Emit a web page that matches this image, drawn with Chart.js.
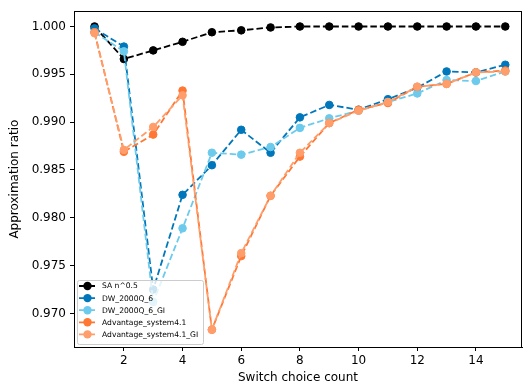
<!DOCTYPE html>
<html>
<head>
<meta charset="utf-8">
<script src="https://cdn.jsdelivr.net/npm/chart.js@4.4.1/dist/chart.umd.min.js"></script>
<style>
  html, body { margin: 0; padding: 0; background: white; }
  #wrap { width: 527px; height: 389px; }
</style>
</head>
<body>
<div id="wrap"><canvas id="c" width="527" height="389"></canvas></div>
<script>
const switchCounts = [1, 2, 3, 4, 5, 6, 7, 8, 9, 10, 11, 12, 13, 14, 15];

const saSqrt = [1.0000, 0.9966, 0.9975, 0.9984, 0.9994, 0.9996, 0.9999, 1.0000, 1.0000, 1.0000, 1.0000, 1.0000, 1.0000, 1.0000, 1.0000];
const dw2000q = [0.9998, 0.9979, 0.9725, 0.9824, 0.9855, 0.9892, 0.9868, 0.9905, 0.9918, 0.9913, 0.9924, 0.9936, 0.9953, 0.9952, 0.9960];
const dw2000qGI = [0.9994, 0.9974, 0.9712, 0.9789, 0.9868, 0.9866, 0.9874, 0.9894, 0.9904, 0.9912, 0.9921, 0.9930, 0.9944, 0.9943, 0.9953];
const advantage = [0.9994, 0.9869, 0.9887, 0.9933, 0.9683, 0.9760, 0.9823, 0.9864, 0.9899, 0.9913, 0.9920, 0.9937, 0.9940, 0.9952, 0.9954];
const advantageGI = [0.9993, 0.9871, 0.9895, 0.9928, 0.9683, 0.9763, 0.9823, 0.9868, 0.9899, 0.9912, 0.9921, 0.9937, 0.9940, 0.9952, 0.9953];

const seriesNames = ["SA n^0.5", "DW_2000Q_6", "DW_2000Q_6_GI", "Advantage_system4.1", "Advantage_system4.1_GI"];
const seriesValues = [saSqrt, dw2000q, dw2000qGI, advantage, advantageGI];
const seriesColors = ["#000000", "#0077BB", "#6CCBEC", "#FF7733", "#FF9E6B"];

const yTicks = [0.970, 0.975, 0.980, 0.985, 0.990, 0.995, 1.000];
const xTicks = [2, 4, 6, 8, 10, 12, 14];

const FONT = "DejaVu Sans";
const DASH = [6.5, 3];

const datasets = seriesNames.map((name, i) => ({
  label: name,
  data: switchCounts.map((x, j) => ({ x, y: seriesValues[i][j] })),
  borderColor: seriesColors[i],
  backgroundColor: seriesColors[i],
  pointBackgroundColor: seriesColors[i],
  pointBorderColor: seriesColors[i],
  borderWidth: 1.8,
  borderDash: DASH,
  pointRadius: 3.8,
  pointBorderWidth: 1,
  showLine: true,
  fill: false,
  tension: 0,
  order: seriesNames.length - i, // later series on top, like matplotlib
}));

// frame + legend drawn inside the plot, lower left
const framePlugin = {
  id: "frame_and_legend",
  afterDatasetsDraw(chart) {
    const { ctx, chartArea: a } = chart;
    ctx.save();
    ctx.strokeStyle = "#000";
    ctx.lineWidth = 1;
    ctx.strokeRect(Math.round(a.left) + 0.5, Math.round(a.top) + 0.5,
      Math.round(a.right - a.left) - 1, Math.round(a.bottom - a.top));
    ctx.restore();

    // legend box
    const bx = 77, by = 280, bw = 126, bh = 64;
    ctx.save();
    ctx.beginPath();
    ctx.roundRect(bx + 0.5, by + 0.5, bw, bh, 2);
    ctx.fillStyle = "rgba(255,255,255,0.8)";
    ctx.fill();
    ctx.strokeStyle = "#cccccc";
    ctx.lineWidth = 1;
    ctx.stroke();

    ctx.font = `7.6px "${FONT}"`;
    ctx.textBaseline = "middle";
    chart.data.datasets.forEach((ds, i) => {
      const y = by + 6 + i * 12.1;
      ctx.strokeStyle = ds.borderColor;
      ctx.lineWidth = 1.8;
      ctx.setLineDash(DASH);
      ctx.beginPath();
      ctx.moveTo(79, y);
      ctx.lineTo(96, y);
      ctx.stroke();
      ctx.setLineDash([]);
      ctx.beginPath();
      ctx.arc(87.5, y, 4.2, 0, Math.PI * 2);
      ctx.fillStyle = ds.borderColor;
      ctx.fill();
      ctx.fillStyle = "#000";
      ctx.fillText(ds.label, 102, y + 0.5);
    });
    ctx.restore();
  },
};

const bgPlugin = {
  id: "white_bg",
  beforeDraw(chart) {
    const { ctx } = chart;
    ctx.save();
    ctx.fillStyle = "white";
    ctx.fillRect(0, 0, chart.width, chart.height);
    ctx.restore();
  },
};

new Chart(document.getElementById("c"), {
  type: "scatter",
  data: { datasets },
  options: {
    responsive: false,
    animation: false,
    layout: { padding: { top: 7, right: 2, left: 0, bottom: 0 } },
    plugins: {
      legend: { display: false },
      tooltip: { enabled: false },
    },
    scales: {
      x: {
        type: "linear",
        min: 0.3,
        max: 15.57,
        afterBuildTicks: (s) => { s.ticks = xTicks.map((v) => ({ value: v })); },
        afterFit: (s) => { s.height = 42; },
        grid: { drawOnChartArea: false, drawTicks: true, tickLength: 4, color: "#000", tickWidth: 1 },
        border: { color: "#000", width: 1 },
        ticks: { color: "#000", font: { family: FONT, size: 12 }, padding: 3, maxRotation: 0 },
        title: {
          display: true,
          text: "Switch choice count",
          color: "#000",
          font: { family: FONT, size: 12 },
          padding: { top: 0, bottom: 4 },
        },
      },
      y: {
        type: "linear",
        min: 0.96649,
        max: 1.0016,
        afterBuildTicks: (s) => { s.ticks = yTicks.map((v) => ({ value: v })); },
        afterFit: (s) => { s.width = 74; },
        grid: { drawOnChartArea: false, drawTicks: true, tickLength: 4, color: "#000", tickWidth: 1 },
        border: { color: "#000", width: 1 },
        ticks: {
          color: "#000",
          font: { family: FONT, size: 12 },
          padding: 4,
          callback: (v) => Number(v).toFixed(3),
        },
        title: {
          display: true,
          text: "Approximation ratio",
          color: "#000",
          font: { family: FONT, size: 12 },
          padding: { top: 8, bottom: 0 },
        },
      },
    },
  },
  plugins: [bgPlugin, framePlugin],
});
</script>
</body>
</html>
